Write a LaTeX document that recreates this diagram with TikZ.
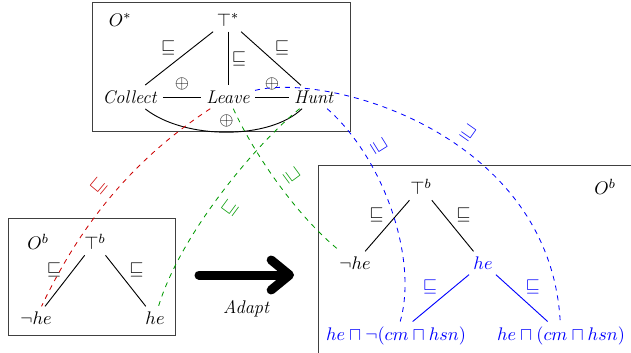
\documentclass[tikz,border=0pt]{standalone}
\usepackage{amsmath,amssymb}
\usepackage{xcolor}
\usepackage{tikz}
\usetikzlibrary{arrows.meta, positioning}

\begin{document}
\begin{tikzpicture}[
    x=0.6pt, y=-0.6pt,
    frame/.style={draw=black!75, line width=0.6pt},
    concept/.style={inner sep=3pt, font=\fontsize{11}{13}\selectfont},
    bconcept/.style={concept, text=blue},
    rel/.style={draw=black, line width=0.55pt},
    brel/.style={draw=blue, line width=0.55pt},
    rlbl/.style={inner sep=2pt, font=\fontsize{11}{13}\selectfont},
    dlink/.style={dashed, line width=0.5pt},
    slbl/.style={sloped, inner sep=2pt, font=\fontsize{11}{13}\selectfont},
    bigarr/.style={-{Straight Barb[round, length=11pt, width=18pt]}, line width=5.4pt, line cap=round}
]

% Canvas
\useasboundingbox (0,0) rectangle (631,353);
\clip (0,0) rectangle (631,353);

% Top ontology O^*
\draw[frame] (92,3) rectangle (350,132);
\node[concept] (ostar) at (120,20) {$O^*$};
\node[concept] (topstar) at (228,20) {$\top^*$};
\node[concept] (collect) at (130,97) {\textit{Collect}};
\node[concept] (leave) at (228,97) {\textit{Leave}};
\node[concept] (hunt) at (314,97) {\textit{Hunt}};

\draw[rel] (topstar) -- node[rlbl, above left] {$\sqsubseteq$} (collect);
\draw[rel] (topstar) -- node[rlbl, right] {$\sqsubseteq$} (leave);
\draw[rel] (topstar) -- node[rlbl, above right] {$\sqsubseteq$} (hunt);
\draw[rel] (collect) -- node[rlbl, above=2pt] {$\oplus$} (leave);
\draw[rel] (leave) -- node[rlbl, above=2pt] {$\oplus$} (hunt);
\draw[rel] (collect) .. controls (185,140) and (270,140) .. node[rlbl, above=1pt] {$\oplus$} (hunt);

% Left ontology O^b
\draw[frame] (8,218) rectangle (175,335);
\node[concept] (obl) at (38,242) {$O^b$};
\node[concept] (topbl) at (95,242) {$\top^b$};
\node[concept] (nhel) at (36,318) {$\neg he$};
\node[concept] (hel) at (155,318) {$he$};

\draw[rel] (topbl) -- node[rlbl, above left] {$\sqsubseteq$} (nhel);
\draw[rel] (topbl) -- node[rlbl, above right] {$\sqsubseteq$} (hel);

% Adapt arrow
\coordinate (adapts) at (199,275);
\coordinate (adapte) at (294,275);
\draw[bigarr] (adapts) -- node[below=9pt, font=\fontsize{11}{13}\selectfont] {\textit{Adapt}} (adapte);

% Right ontology O^b (adapted)
\draw[frame] (318,165) rectangle (660,380);
\node[concept] (obr) at (605,187) {$O^b$};
\node[concept] (topbr) at (421,187) {$\top^b$};
\node[concept] (nher) at (355,263) {$\neg he$};
\node[bconcept] (her) at (483,263) {$he$};
\node[bconcept] (hencm) at (396,336) {$he \sqcap \neg(cm \sqcap hsn)$};
\node[bconcept] (hecm) at (561,336) {$he \sqcap (cm \sqcap hsn)$};

\draw[rel] (topbr) -- node[rlbl, above left] {$\sqsubseteq$} (nher);
\draw[rel] (topbr) -- node[rlbl, above right] {$\sqsubseteq$} (her);
\draw[brel] (her) -- node[rlbl, text=blue, above left] {$\sqsubseteq$} ([xshift=10pt]hencm.north);
\draw[brel] (her) -- node[rlbl, text=blue, above right] {$\sqsubseteq$} ([xshift=-8pt]hecm.north);

% Mappings between ontologies
\draw[dlink, red!80!black] (leave) .. controls (140,155) and (85,215) .. node[slbl, pos=0.53, above=3pt] {$\sqsubseteq$} (nhel);
\draw[dlink, green!60!black] (hunt) .. controls (255,145) and (180,235) .. node[slbl, pos=0.52, below=3pt] {$\sqsubseteq$} (hel);
\draw[dlink, green!60!black] (leave) .. controls (252,150) and (295,215) .. node[slbl, pos=0.52, above=3pt] {$\sqsupseteq$} (nher);
\draw[dlink, blue] (hunt) .. controls (385,160) and (418,260) .. node[slbl, pos=0.25, above=3pt] {$\sqsupseteq$} (hencm);
\draw[dlink, blue] (leave) .. controls (330,72) and (550,135) .. node[slbl, pos=0.57, above=3pt] {$\sqsupseteq$} (hecm);

\end{tikzpicture}
\end{document}
